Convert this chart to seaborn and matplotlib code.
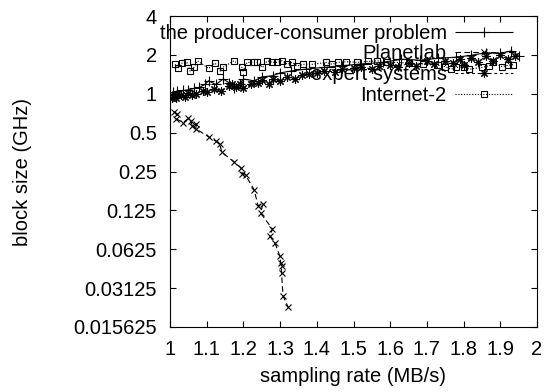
import seaborn as sns
import pandas as pd
import numpy as np
import matplotlib.pyplot as plt
from matplotlib.ticker import FixedLocator, FixedFormatter, NullLocator

# producer-consumer problem (solid, +)
pc_x = [1.007, 1.02, 1.035, 1.05, 1.065, 1.08, 1.095, 1.105, 1.125, 1.145, 1.16, 1.175, 1.19, 1.2, 1.23,
        1.25, 1.28, 1.30, 1.33, 1.37, 1.42, 1.47, 1.52, 1.58, 1.63, 1.68, 1.73, 1.78, 1.82, 1.86, 1.9, 1.93, 1.95]
pc_y = [1.03, 1.05, 1.06, 1.07, 1.1, 1.12, 1.18, 1.26, 1.18, 1.30, 1.22, 1.10, 1.2, 1.30, 1.26,
        1.35, 1.38, 1.45, 1.50, 1.55, 1.60, 1.65, 1.70, 1.75, 1.85, 1.82, 1.88, 1.92, 1.98, 2.08, 2.05, 2.15, 1.97]

# Planetlab (dashed, x)
pl_x = [1.011, 1.020, 1.016, 1.036, 1.050, 1.056, 1.061, 1.072, 1.070, 1.106, 1.125, 1.136, 1.141, 1.174,
        1.193, 1.197, 1.206, 1.229, 1.240, 1.253, 1.247, 1.279, 1.272, 1.286, 1.299, 1.302, 1.304, 1.304,
        1.308, 1.322]
pl_y = [0.72, 0.693, 0.642, 0.598, 0.645, 0.615, 0.562, 0.579, 0.537, 0.462, 0.430, 0.405, 0.353, 0.297,
        0.267, 0.241, 0.233, 0.181, 0.136, 0.140, 0.119, 0.0897, 0.0785, 0.0698, 0.0556, 0.0488, 0.0460, 0.0409,
        0.0272, 0.0222]

# expert systems (short dashes, *)
es_x = [1.005, 1.01, 1.015, 1.02, 1.03, 1.04, 1.05, 1.06, 1.07, 1.09, 1.10, 1.12, 1.14, 1.16, 1.17, 1.18,
        1.19, 1.2, 1.22, 1.24, 1.25, 1.27, 1.28, 1.30, 1.32, 1.34, 1.36, 1.38, 1.40, 1.42, 1.45, 1.47, 1.50,
        1.52, 1.55, 1.57, 1.60, 1.62, 1.65, 1.67, 1.70, 1.72, 1.75, 1.77, 1.79, 1.80, 1.82, 1.84, 1.86, 1.88,
        1.90, 1.92, 1.94]
es_y = [0.93, 0.97, 0.92, 1.0, 0.98, 0.95, 1.02, 0.97, 1.0, 1.05, 1.03, 1.08, 1.05, 1.15, 1.2, 1.12,
        1.18, 1.1, 1.18, 1.22, 1.28, 1.2, 1.3, 1.25, 1.35, 1.3, 1.4, 1.42, 1.45, 1.5, 1.48, 1.55, 1.58,
        1.62, 1.55, 1.65, 1.68, 1.6, 1.72, 1.65, 1.78, 1.7, 1.8, 1.72, 1.85, 1.68, 1.9, 1.75, 1.95, 1.8,
        2.0, 1.85, 1.95]

# Internet-2 (dotted, squares)
in_x = [1.014, 1.021, 1.033, 1.046, 1.055, 1.065, 1.075, 1.105, 1.123, 1.137, 1.144, 1.174, 1.196, 1.198,
        1.210, 1.228, 1.238, 1.252, 1.265, 1.279, 1.292, 1.306, 1.320, 1.333, 1.347, 1.363, 1.388, 1.426,
        1.442, 1.458, 1.480, 1.510, 1.54, 1.565, 1.592, 1.615, 1.65, 1.69, 1.73, 1.75, 1.766, 1.78, 1.80,
        1.816, 1.85, 1.87, 1.88, 1.905, 1.92, 1.935]
in_y = [1.69, 1.57, 1.73, 1.75, 1.50, 1.60, 1.80, 1.57, 1.73, 1.50, 1.60, 1.80, 1.60, 1.48,
        1.75, 1.75, 1.75, 1.60, 1.80, 1.75, 1.75, 1.80, 1.69, 1.75, 1.64, 1.69, 1.69, 1.75,
        1.69, 1.75, 1.77, 1.75, 1.78, 1.80, 1.75, 1.75, 1.73, 1.70, 1.66, 1.62, 1.55, 1.60, 1.62,
        1.55, 1.60, 1.65, 1.75, 1.62, 1.66, 1.68]

y_ticks = [0.015625, 0.03125, 0.0625, 0.125, 0.25, 0.5, 1, 2, 4]
y_labels = ['0.015625', '0.03125', '0.0625', '0.125', '0.25', '0.5', '1', '2', '4']
x_ticks = [1, 1.1, 1.2, 1.3, 1.4, 1.5, 1.6, 1.7, 1.8, 1.9, 2]
x_labels = ['1', '1.1', '1.2', '1.3', '1.4', '1.5', '1.6', '1.7', '1.8', '1.9', '2']

sns.set_style('ticks', {'axes.edgecolor': 'black', 'text.color': 'black',
                        'xtick.color': 'black', 'ytick.color': 'black', 'axes.labelcolor': 'black'})
plt.rcParams['font.family'] = ['Liberation Sans', 'DejaVu Sans']
FS = 14.5

fig = plt.figure(figsize=(5.55, 3.92), dpi=100)
ax = fig.add_axes([170 / 555, 1 - 327 / 392, 367 / 555, 311 / 392])

series = [
    ('the producer-consumer problem', pc_x, pc_y, '+', (0, ()), 7),
    ('Planetlab', pl_x, pl_y, 'x', (0, (5, 3)), 5),
    ('expert systems', es_x, es_y, (8, 2, 0), (0, (2.5, 2.5)), 6),
    ('Internet-2', in_x, in_y, 's', (0, (1, 1.5)), 5),
]
for name, xs, ys, mk, ls, ms in series:
    df = pd.DataFrame({'x': xs, 'y': ys})
    sns.lineplot(data=df, x='x', y='y', ax=ax, sort=False, estimator=None, color='black',
                 linewidth=0.8, linestyle=ls, marker=mk, markersize=ms, markeredgewidth=0.8,
                 markerfacecolor='none', markeredgecolor='black', label=name, zorder=3)

ax.set_yscale('log', base=2)
ax.set_ylim(0.015625, 4)
ax.set_xlim(1, 2)
ax.yaxis.set_major_locator(FixedLocator(y_ticks))
ax.yaxis.set_major_formatter(FixedFormatter(y_labels))
ax.yaxis.set_minor_locator(NullLocator())
ax.xaxis.set_major_locator(FixedLocator(x_ticks))
ax.xaxis.set_major_formatter(FixedFormatter(x_labels))
ax.tick_params(direction='in', length=4, width=0.8, top=True, right=True, pad=9.5, labelsize=FS,
               colors='black')
for sp in ax.spines.values():
    sp.set_linewidth(0.8)
    sp.set_color('black')

ax.set_xlabel('sampling rate (MB/s)', fontsize=FS, color='black')
ax.set_ylabel('block size (GHz)', fontsize=FS, color='black')
ax.xaxis.set_label_coords(0.5, -0.13)
ax.yaxis.set_label_coords(-0.376, 0.5)

leg = ax.legend(loc='upper right', bbox_to_anchor=(0.935, 0.975), frameon=False, markerfirst=False,
                handlelength=2.9, handletextpad=0.4, labelspacing=0.08, borderpad=0, borderaxespad=0,
                fontsize=FS)
for t in leg.get_texts():
    t.set_color('black')
leg.set_zorder(1)

fig.savefig('out.png', dpi=100)
